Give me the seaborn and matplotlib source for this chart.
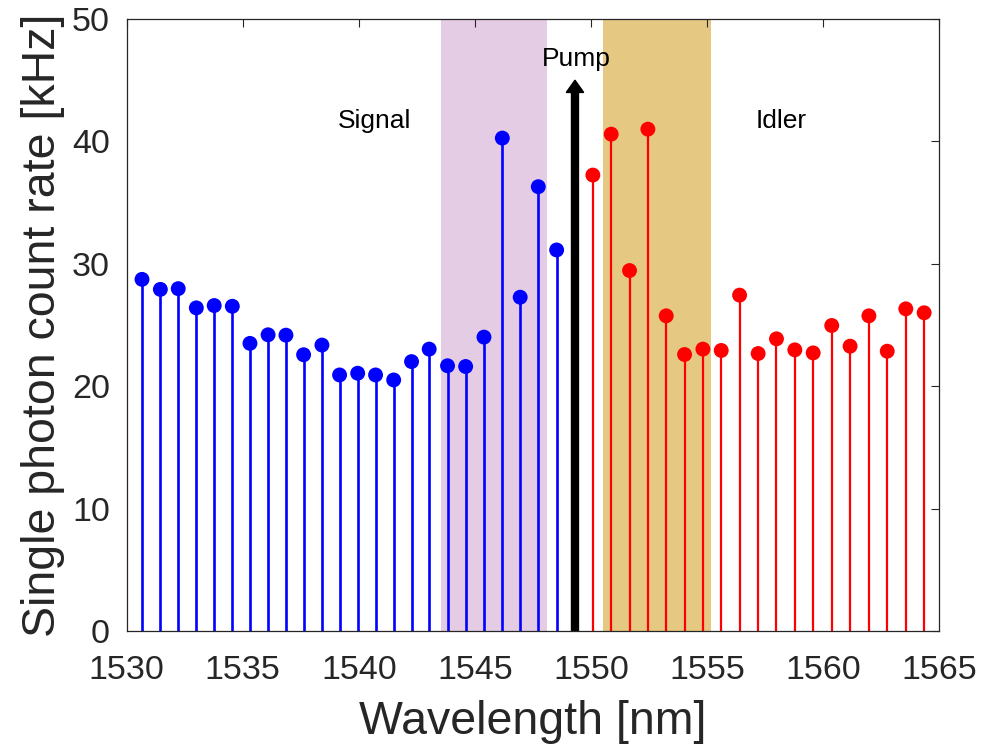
import matplotlib
matplotlib.use("Agg")
import matplotlib.pyplot as plt
import numpy as np
import pandas as pd
import seaborn as sns

# ---- data ----
signal_wl = [1530.66, 1531.45, 1532.22, 1533.00, 1533.77, 1534.55, 1535.31, 1536.09,
             1536.86, 1537.62, 1538.41, 1539.17, 1539.95, 1540.72, 1541.50, 1542.27,
             1543.03, 1543.82, 1544.60, 1545.39, 1546.18, 1546.95, 1547.73, 1548.52]
signal_rate = [28.73, 27.91, 27.97, 26.40, 26.59, 26.53, 23.50, 24.20,
               24.17, 22.57, 23.36, 20.92, 21.06, 20.92, 20.51, 22.01,
               23.03, 21.67, 21.61, 24.01, 40.27, 27.27, 36.30, 31.13]

idler_wl = [1550.08, 1550.87, 1551.66, 1552.45, 1553.24, 1554.03, 1554.82, 1555.61,
            1556.40, 1557.20, 1557.99, 1558.78, 1559.57, 1560.37, 1561.16, 1561.97,
            1562.76, 1563.56, 1564.35]
idler_rate = [37.25, 40.59, 29.45, 41.00, 25.75, 22.59, 23.03, 22.92,
              27.44, 22.67, 23.87, 22.97, 22.72, 24.96, 23.27, 25.75,
              22.86, 26.32, 26.00]

pump_wl = 1549.31
pump_level = 45.0

signal_band = (1543.52, 1548.11)
idler_band = (1550.51, 1555.16)

x_ticks = [1530, 1535, 1540, 1545, 1550, 1555, 1560, 1565]
y_ticks = [0, 10, 20, 30, 40, 50]

# ---- style ----
sns.set_theme(style="white")
plt.rcParams['font.family'] = ['Liberation Sans', 'DejaVu Sans']
dark = '#262626'

fig = plt.figure(figsize=(9.96, 7.48), dpi=100)
ax = fig.add_axes([0.1272, 0.1564, 0.8158, 0.8182])

ax.axvspan(*signal_band, color='#E5CCE5', lw=0, zorder=0)
ax.axvspan(*idler_band, color='#E5C882', lw=0, zorder=0)

df_sig = pd.DataFrame({'wl': signal_wl, 'rate': signal_rate})
df_idl = pd.DataFrame({'wl': idler_wl, 'rate': idler_rate})

ax.vlines(df_sig['wl'], 0, df_sig['rate'], color='#0000FF', lw=1.9, zorder=2)
ax.vlines(df_idl['wl'], 0, df_idl['rate'], color='#FF0000', lw=1.6, zorder=2)
sns.scatterplot(data=df_sig, x='wl', y='rate', color='#0000FF', s=115,
                edgecolor='none', linewidth=0, zorder=3, ax=ax, legend=False)
sns.scatterplot(data=df_idl, x='wl', y='rate', color='#FF0000', s=115,
                edgecolor='none', linewidth=0, zorder=3, ax=ax, legend=False)

ax.arrow(pump_wl, 0, 0, pump_level, width=0.30, head_width=0.75, head_length=1.0,
         length_includes_head=True, color='black', zorder=4)

ax.text(1549.38, 46.2, 'Pump', ha='center', va='baseline', fontsize=19, color='black')
ax.text(1540.67, 41.07, 'Signal', ha='center', va='baseline', fontsize=19, color='black')
ax.text(1558.2, 41.07, 'Idler', ha='center', va='baseline', fontsize=19, color='black')

ax.set_xlim(1530, 1565)
ax.set_ylim(0, 50)
ax.set_xticks(x_ticks)
ax.set_yticks(y_ticks)
ax.set_xticklabels([str(t) for t in x_ticks])
ax.set_yticklabels([str(t) for t in y_ticks])

ax.tick_params(axis='both', direction='in', top=True, right=True, length=6, width=0.8,
               colors=dark, labelsize=24.5, labelcolor=dark)
ax.tick_params(axis='x', pad=17)
ax.tick_params(axis='y', pad=12)

for sp in ax.spines.values():
    sp.set_visible(True)
    sp.set_color(dark)
    sp.set_linewidth(0.9)
    sp.set_zorder(5)

ax.set_xlabel('Wavelength [nm]', fontsize=33.5, color=dark, labelpad=10)
ax.set_ylabel('Single photon count rate [kHz]', fontsize=33.5, color=dark, labelpad=5)
ax.grid(False)

fig.savefig('out.png', dpi=100, facecolor='white')
